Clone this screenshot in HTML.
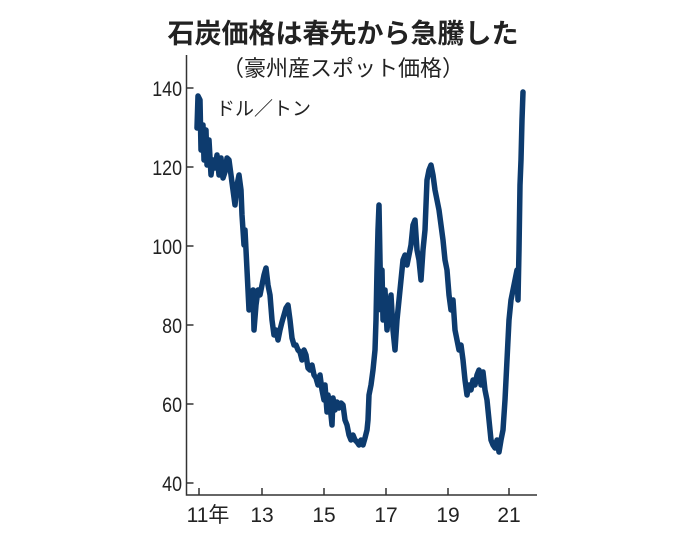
<!DOCTYPE html>
<html><head><meta charset="utf-8"><style>
html,body{margin:0;padding:0;background:#fff;width:687px;height:542px;overflow:hidden}
svg text{font-family:"Liberation Sans","Noto Sans CJK JP",sans-serif;fill:#222}
</style></head><body>
<svg width="687" height="542" viewBox="0 0 687 542">
<text x="343" y="43" text-anchor="middle" font-size="27" font-weight="bold" fill="#111">石炭価格は春先から急騰した</text>
<text x="343" y="76" text-anchor="middle" font-size="22">（豪州産スポット価格）</text>
<text x="216" y="115" font-size="19">ドル／トン</text>
<g stroke="#333" stroke-width="1.5" fill="none">
<path d="M186.5 55 V495 H537"/>
<path d="M186.5 88h7M186.5 167h7M186.5 246h7M186.5 325h7M186.5 404h7M186.5 483h7"/>
<path d="M199 495v-7M262 495v-7M324 495v-7M386 495v-7M448 495v-7M509 495v-7"/>
</g>
<g font-size="21" text-anchor="end">
<text x="182" y="96" transform="translate(182 0) scale(0.85 1) translate(-182 0)">140</text>
<text x="182" y="175" transform="translate(182 0) scale(0.85 1) translate(-182 0)">120</text>
<text x="182" y="254" transform="translate(182 0) scale(0.85 1) translate(-182 0)">100</text>
<text x="182" y="333" transform="translate(182 0) scale(0.85 1) translate(-182 0)">80</text>
<text x="182" y="412" transform="translate(182 0) scale(0.85 1) translate(-182 0)">60</text>
<text x="182" y="491" transform="translate(182 0) scale(0.85 1) translate(-182 0)">40</text>
</g>
<g font-size="21" text-anchor="middle">
<text x="208" y="522">11年</text><text x="262" y="522">13</text><text x="324" y="522">15</text>
<text x="386" y="522">17</text><text x="448" y="522">19</text><text x="509" y="522">21</text>
</g>
<polyline fill="none" stroke="#0d3b6e" stroke-width="5.5" stroke-linejoin="round" stroke-linecap="round" points="197,128 198,96 200,100 201,150 203,125 204,160 206,130 207,165 209,140 211,175 213,160 215,168 217,155 219,175 221,158 223,178 225,172 227,158 229,160 231,175 233,190 235,205 237,185 239,175 241,190 242,215 244,245 245,230 247,270 248,290 249,310 251,300 253,290 254,330 256,305 258,290 260,295 262,285 264,275 266,268 268,285 270,295 272,320 274,335 276,330 278,340 280,330 282,322 284,315 286,308 288,305 290,320 292,338 294,345 296,345 298,350 300,352 302,360 304,350 306,355 308,368 310,370 312,365 314,375 316,378 318,385 320,375 322,390 324,400 325,385 327,412 328,395 330,405 332,425 333,398 335,410 337,402 339,408 341,403 343,405 345,420 347,425 349,435 351,440 353,435 355,440 357,442 359,445 361,440 363,445 365,438 367,430 368,420 369,395 371,385 373,370 375,350 376,320 377,270 378,230 379,205 380,260 381,310 382,270 383,320 385,290 387,330 389,310 391,295 393,330 395,350 397,320 399,300 401,280 403,260 405,255 407,265 409,255 411,245 413,225 415,220 417,250 419,260 421,280 423,250 425,230 427,180 429,170 431,165 433,175 435,190 437,200 439,210 441,225 443,240 445,260 447,270 449,295 451,310 453,300 455,330 457,340 459,350 461,345 463,360 465,380 467,395 469,385 471,390 473,380 475,385 477,375 479,370 481,385 483,372 485,390 487,400 489,420 491,440 493,445 495,448 497,440 499,452 501,440 503,430 505,400 507,360 509,320 511,300 513,290 515,280 517,270 518,300 519,250 520,185 521,160 522,120 523,92"/>
</svg>
</body></html>
